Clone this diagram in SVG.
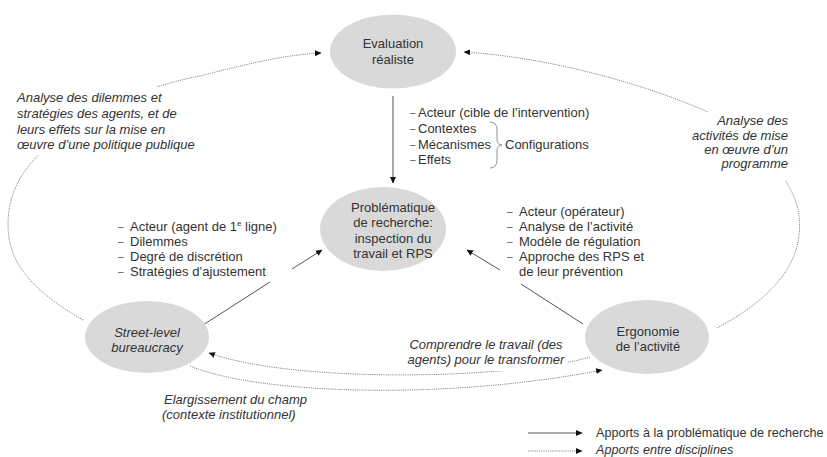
<svg xmlns="http://www.w3.org/2000/svg" width="827" height="457" viewBox="0 0 827 457">
<style>
.node{fill:#d9d9d9;stroke:none}
.t{font-family:"Liberation Sans",Arial,sans-serif;font-size:13px;fill:#333}
.i{font-style:italic}
.c{text-anchor:middle}
.e{text-anchor:end}
.b{font-size:10px;fill:#555}
.lg{font-size:12.6px}
.solid{fill:none;stroke:#555;stroke-width:1}
.dot{fill:none;stroke:#8a8a8a;stroke-width:1;stroke-dasharray:1.2 1}
.mask{fill:#fff;stroke:none}
</style>
<defs>
<marker id="ah" markerWidth="8" markerHeight="8" refX="6" refY="3.5" orient="auto" markerUnits="userSpaceOnUse"><path d="M0,0.5 L6.5,3.5 L0,6.5 z" fill="#111"/></marker>
</defs>
<rect width="827" height="457" fill="#fff"/>
<g id="connectors">
<path class="solid" d="M393,96 L393,183" marker-end="url(#ah)"/>
<path class="solid" d="M203,325 L270,282"/>
<path class="solid" d="M292,269 L322,250" marker-end="url(#ah)"/>
<path class="solid" d="M583,324 L521,284"/>
<path class="solid" d="M500,270 L467,250" marker-end="url(#ah)"/>
<path class="dot" d="M83,320 C35,292 8,265 8,225 C8,190 25,165 50,145 C90,110 150,85 200,76 C240,66 280,55 321,53" marker-end="url(#ah)"/>
<path class="dot" d="M717,328 C760,305 795,275 799,235 C801,215 797,200 788,185 C775,160 745,130 710,113 C660,90 560,58 464,52" marker-end="url(#ah)"/>
<path class="dot" d="M590,357 C520,378 300,385 209,353" marker-end="url(#ah)"/>
<path class="dot" d="M190,366 C260,395 450,400 602,370" marker-end="url(#ah)"/>
<path fill="none" stroke="#777" stroke-width="0.8" d="M490,122 Q497,122 497,130 L497,139 Q497,145 502,145 Q497,145 497,151 L497,160 Q497,168 490,168"/>
</g>
<g id="labels">
<rect class="mask" x="10" y="87" width="230" height="68"/>
<text class="t i" x="17" y="102">Analyse des dilemmes et</text>
<text class="t i" x="17" y="118">stratégies des agents, et de</text>
<text class="t i" x="17" y="134">leurs effets sur la mise en</text>
<text class="t i" x="17" y="149">œuvre d’une politique publique</text>
<rect class="mask" x="688" y="112" width="107" height="68"/>
<text class="t i e" x="788" y="125">Analyse des</text>
<text class="t i e" x="788" y="139.5">activités de mise</text>
<text class="t i e" x="788" y="154">en œuvre d’un</text>
<text class="t i e" x="788" y="168">programme</text>
<rect class="mask" x="403" y="335" width="164" height="36"/>
<text class="t i c" x="486" y="349">Comprendre le travail (des</text>
<text class="t i c" x="486" y="364">agents) pour le transformer</text>
<text class="t i" x="164" y="404">Elargissement du champ</text>
<text class="t i" x="162" y="419">(contexte institutionnel)</text>
</g>
<g id="list-evaluation">
<text class="t b" x="410" y="116">–</text><text class="t" x="418" y="117">Acteur (cible de l’intervention)</text>
<text class="t b" x="410" y="132">–</text><text class="t" x="418" y="133">Contextes</text>
<text class="t b" x="410" y="148">–</text><text class="t" x="418" y="149">Mécanismes</text>
<text class="t b" x="410" y="163">–</text><text class="t" x="418" y="164">Effets</text>
<text class="t" x="505" y="149">Configurations</text>
</g>
<g id="list-street">
<text class="t b" x="118" y="230">–</text><text class="t" x="130" y="231">Acteur (agent de 1<tspan font-size="8" dy="-5">e</tspan><tspan dy="5"> ligne)</tspan></text>
<text class="t b" x="118" y="245">–</text><text class="t" x="130" y="246">Dilemmes</text>
<text class="t b" x="118" y="260">–</text><text class="t" x="130" y="261">Degré de discrétion</text>
<text class="t b" x="118" y="275">–</text><text class="t" x="130" y="276">Stratégies d’ajustement</text>
</g>
<g id="list-ergo">
<text class="t b" x="507" y="215">–</text><text class="t" x="519" y="216">Acteur (opérateur)</text>
<text class="t b" x="507" y="230">–</text><text class="t" x="519" y="231">Analyse de l’activité</text>
<text class="t b" x="507" y="245">–</text><text class="t" x="519" y="246">Modèle de régulation</text>
<text class="t b" x="507" y="260">–</text><text class="t" x="519" y="261">Approche des RPS et</text>
<text class="t" x="519" y="276">de leur prévention</text>
</g>
<g id="evaluation">
<ellipse class="node" cx="393" cy="51.5" rx="63" ry="37"/>
<text class="t c" x="393" y="48">Evaluation</text>
<text class="t c" x="393" y="64">réaliste</text>
</g>
<g id="problematique">
<ellipse class="node" cx="383" cy="229" rx="63" ry="42"/>
<text class="t c" x="393" y="212">Problématique</text>
<text class="t c" x="393" y="227">de recherche:</text>
<text class="t c" x="393" y="243">inspection du</text>
<text class="t c" x="393" y="258">travail et RPS</text>
</g>
<g id="street-level">
<ellipse class="node" cx="147" cy="337" rx="62" ry="36"/>
<text class="t i c" x="147" y="337">Street-level</text>
<text class="t i c" x="147" y="352">bureaucracy</text>
</g>
<g id="ergonomie">
<ellipse class="node" cx="647" cy="337" rx="62" ry="37"/>
<text class="t c" x="648" y="336">Ergonomie</text>
<text class="t c" x="648" y="351">de l’activité</text>
</g>
<g id="legend">
<path class="solid" d="M528,433 L582,433" marker-end="url(#ah)"/>
<text class="t lg" x="596" y="437">Apports à la problématique de recherche</text>
<path class="dot" d="M528,451 L582,451" marker-end="url(#ah)"/>
<text class="t i lg" x="596" y="454">Apports entre disciplines</text>
</g>
</svg>
